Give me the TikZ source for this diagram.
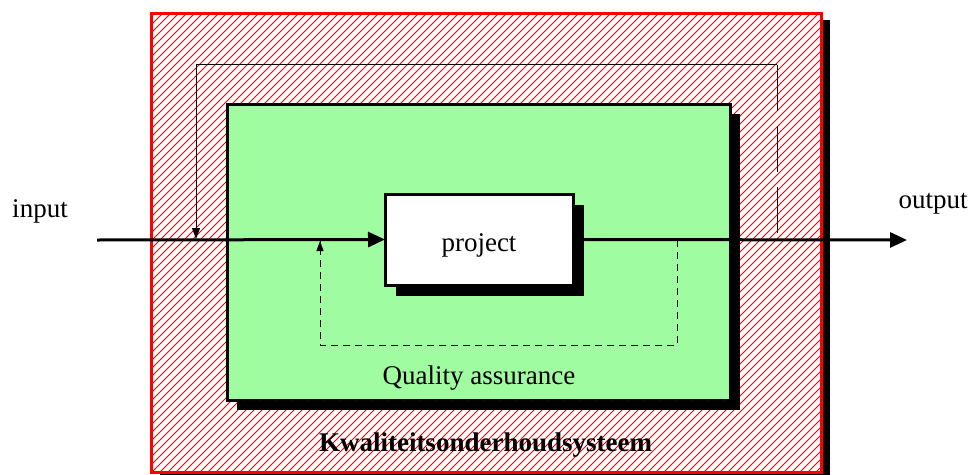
\documentclass[tikz,border=0pt]{standalone}
\usepackage{fontspec}
\setmainfont{Liberation Serif}
\usetikzlibrary{arrows.meta}
\definecolor{hatchred}{RGB}{255,0,0}
\definecolor{qagreen}{RGB}{160,252,160}

\begin{document}
\begin{tikzpicture}[x=1pt,y=-1pt,
  every node/.style={font=\fontsize{27}{32}\selectfont, inner sep=0pt, outer sep=0pt},
  plainbox/.style={rectangle},
  framebox/.style={draw=black, line width=3pt, rectangle},
  dropshadow/.style={fill=black},
  mainflow/.style={line width=3pt, -{Triangle[length=17pt,width=15pt]}},
  thinline/.style={line width=0.9pt},
  thintip/.style={-{Triangle[length=11pt,width=8pt]}},
  qadash/.style={line width=1pt, dash pattern=on 7pt off 5pt},
  longdash/.style={line width=0.9pt, dash pattern=on 46pt off 15pt},
  hatchline/.style={hatchred, line width=0.9pt},
]
\useasboundingbox (0,0) rectangle (971,474);

% outer system block: shadow, white ground, red hatching, red border
\node[plainbox, minimum width=670pt, minimum height=459pt] (sys) at (486,242.5) {};
\fill[dropshadow] ([shift={(9,7)}]sys.south west) rectangle ([shift={(9,7)}]sys.north east);
\fill[white] (sys.south west) rectangle (sys.north east);
\begin{scope}
  \clip (sys.south west) rectangle (sys.north east);
  \foreach \k in {-504,-496,...,1000}
    \draw[hatchline] (\k,480) -- (\k+480,0);
\end{scope}
\draw[hatchred, line width=3pt] (sys.south west) rectangle (sys.north east);

% outer feedback loop
\coordinate (fbR)  at (777,233);
\coordinate (fbTR) at (777,64);
\coordinate (fbTL) at (196,64);
\coordinate (fbL)  at (196,239);
\draw[longdash] (fbR) -- (fbTR);
\draw[thinline, thintip] (fbTR) -- (fbTL) -- (fbL);

% quality assurance block
\node[plainbox, minimum width=503pt, minimum height=296pt] (qash) at (488.5,262) {};
\fill[dropshadow] (qash.south west) rectangle (qash.north east);
\node[framebox, fill=qagreen, minimum width=503pt, minimum height=296pt] (qa) at (478.5,252) {};

% inner feedback loop
\coordinate (qaR)  at (677,240);
\coordinate (qaBR) at (677,345);
\coordinate (qaBL) at (320,345);
\coordinate (qaL)  at (320,241);
\draw[qadash] (qaR) -- (qaBR) -- (qaBL) -- (qaL);
\draw[line width=1pt, -{Triangle[length=10pt,width=7pt]}] (320,252) -- (qaL);

% project block
\node[plainbox, minimum width=188pt, minimum height=91pt] (projsh) at (489.5,250) {};
\fill[dropshadow] (projsh.south west) rectangle (projsh.north east);
\node[framebox, fill=white, minimum width=188pt, minimum height=91pt] (proj) at (479,239.5) {};
\node (projtext) at (479,245) {project};

% main flow
\coordinate (inStart) at (97,240);
\coordinate (outEnd)  at (907,240);
\draw[mainflow] (inStart) -- (proj.west);
\draw[mainflow] ([xshift=10pt]proj.east) -- (outEnd);
\draw[line width=3pt] (proj.east) -- ([xshift=10pt]proj.east);

% labels
\node (input)  at (40,211)  {input};
\node (output) at (933,204) {output};
\node (qatext) at (479,378) {Quality assurance};
\node (systext) at (485.5,445) {\bfseries Kwaliteitsonderhoudsysteem};
\end{tikzpicture}
\end{document}
